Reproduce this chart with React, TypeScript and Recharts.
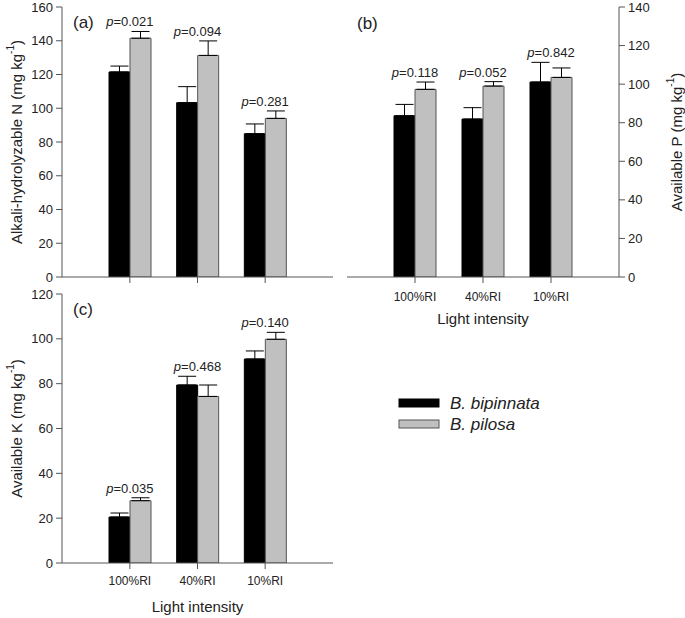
import React from 'react';
import { ComposedChart, Bar, XAxis, YAxis, ErrorBar, Scatter, Label } from 'recharts';

const categories = ['100%RI', '40%RI', '10%RI'];
const seriesNames = ['B. bipinnata', 'B. pilosa'];

// (a) Alkali-hydrolyzable N
const nBipinnata = [121.5, 103.3, 84.9];
const nBipinnataErr = [3.5, 9.5, 5.8];
const nPilosa = [141.5, 131.3, 94.0];
const nPilosaErr = [4.0, 8.6, 4.4];
const nPValues = ['0.021', '0.094', '0.281'];
const nTicks = [0, 20, 40, 60, 80, 100, 120, 140, 160];

// (b) Available P
const pBipinnata = [83.6, 81.9, 101.1];
const pBipinnataErr = [5.9, 5.9, 10.2];
const pPilosa = [97.3, 99.0, 103.5];
const pPilosaErr = [3.8, 2.3, 4.9];
const pPValues = ['0.118', '0.052', '0.842'];
const pTicks = [0, 20, 40, 60, 80, 100, 120, 140];

// (c) Available K
const kBipinnata = [20.5, 79.4, 91.0];
const kBipinnataErr = [1.8, 3.9, 3.6];
const kPilosa = [27.8, 74.3, 99.8];
const kPilosaErr = [1.3, 5.1, 3.1];
const kPValues = ['0.035', '0.468', '0.140'];
const kTicks = [0, 20, 40, 60, 80, 100, 120];

const AX = '#555';
const TXT = '#222';
const BLACK = '#000';
const GREY = '#c0c0c0';
const FONT = 'Liberation Sans, Arial, Helvetica, sans-serif';

function buildRows(b: number[], bErr: number[], g: number[], gErr: number[], p: string[]) {
  return categories.map((cat, i) => ({
    cat,
    b: b[i],
    bErr: [0, bErr[i]],
    g: g[i],
    gErr: [0, gErr[i]],
    anchor: Math.max(b[i] + bErr[i], g[i] + gErr[i]),
    p: p[i],
  }));
}

const nRows = buildRows(nBipinnata, nBipinnataErr, nPilosa, nPilosaErr, nPValues);
const pRows = buildRows(pBipinnata, pBipinnataErr, pPilosa, pPilosaErr, pPValues);
const kRows = buildRows(kBipinnata, kBipinnataErr, kPilosa, kPilosaErr, kPValues);

function YLab(props: any) {
  const { viewBox, text, side } = props;
  const { x, y, width, height } = viewBox;
  const cx = side === 'left' ? x + 16 : x + width - 9;
  const cy = y + height / 2;
  return (
    <text
      x={cx}
      y={cy}
      transform={`rotate(-90 ${cx} ${cy})`}
      textAnchor="middle"
      dominantBaseline="central"
      fontSize={15}
      fill={TXT}
      fontFamily={FONT}
    >
      {text} (mg kg<tspan dy={-6} fontSize={10}>-1</tspan>
      <tspan dy={6}>)</tspan>
    </text>
  );
}

function XLab(props: any) {
  const { viewBox, dyBase } = props;
  const { x, y, width } = viewBox;
  return (
    <text x={x + width / 2} y={y + dyBase} textAnchor="middle" fontSize={15} fill={TXT} fontFamily={FONT}>
      Light intensity
    </text>
  );
}

function PLabel(props: any) {
  const { cx, cy, payload } = props;
  if (cx == null || cy == null) return null;
  return (
    <text x={cx} y={cy - 5} textAnchor="middle" fontSize={13} fill={TXT} fontFamily={FONT}>
      <tspan fontStyle="italic">p</tspan>={payload.p}
    </text>
  );
}

type PanelProps = {
  rows: any[];
  ticks: number[];
  yLabel: string;
  side: 'left' | 'right';
  showXLabels: boolean;
  width: number;
  height: number;
  margin: any;
  xHeight: number;
  yWidth: number;
  tickMargin: number;
  xLabelDy: number;
};

function Panel(p: PanelProps) {
  const domain = [0, p.ticks[p.ticks.length - 1]];
  return (
    <ComposedChart
      width={p.width}
      height={p.height}
      data={p.rows}
      margin={p.margin}
      barGap={0}
      barCategoryGap={0}
      style={{ fontFamily: FONT }}
    >
      <XAxis
        dataKey="cat"
        type="category"
        padding={{ left: 34, right: 34 }}
        height={p.xHeight}
        tickSize={6}
        tickMargin={p.tickMargin}
        axisLine={{ stroke: AX }}
        tickLine={{ stroke: AX }}
        tick={{ fill: TXT, fontSize: 12 }}
        tickFormatter={(v: any) => (p.showXLabels ? v : '')}
        interval={0}
      >
        {p.showXLabels ? <Label content={(lp: any) => <XLab {...lp} dyBase={p.xLabelDy} />} /> : null}
      </XAxis>
      <XAxis
        xAxisId="frameTop"
        dataKey="cat"
        orientation="top"
        height={0}
        tick={false}
        tickLine={false}
        axisLine={{ stroke: AX }}
      />
      <YAxis
        type="number"
        domain={domain}
        ticks={p.ticks}
        orientation={p.side}
        width={p.yWidth}
        tickSize={6}
        tickMargin={3}
        axisLine={{ stroke: AX }}
        tickLine={{ stroke: AX }}
        tick={{ fill: TXT, fontSize: 13 }}
        interval={0}
        allowDataOverflow
      >
        <Label content={(lp: any) => <YLab {...lp} text={p.yLabel} side={p.side} />} />
      </YAxis>
      <YAxis
        yAxisId="frameSide"
        type="number"
        domain={[0, 1]}
        orientation={p.side === 'left' ? 'right' : 'left'}
        width={0}
        tick={false}
        tickLine={false}
        axisLine={{ stroke: AX }}
      />
      <Bar dataKey="b" name={seriesNames[0]} fill={BLACK} stroke={BLACK} strokeWidth={1} barSize={21} isAnimationActive={false}>
        <ErrorBar dataKey="bErr" width={9} stroke={BLACK} strokeWidth={1} direction="y" />
      </Bar>
      <Bar dataKey="g" name={seriesNames[1]} fill={GREY} stroke={AX} strokeWidth={1} barSize={21} isAnimationActive={false}>
        <ErrorBar dataKey="gErr" width={9} stroke={BLACK} strokeWidth={1} direction="y" />
      </Bar>
      <Scatter dataKey="anchor" shape={PLabel} isAnimationActive={false} legendType="none" />
    </ComposedChart>
  );
}

export default function App() {
  return (
    <div style={{ position: 'absolute', left: 0, top: 0, width: 685, height: 618, background: '#fff', fontFamily: FONT }}>
      <div style={{ position: 'absolute', left: 0, top: 0 }}>
        <Panel
          rows={nRows}
          ticks={nTicks}
          yLabel="Alkali-hydrolyzable N"
          side="left"
          showXLabels={false}
          width={340}
          height={290}
          margin={{ top: 7, right: 7, left: 0, bottom: 0 }}
          xHeight={13}
          yWidth={62}
          tickMargin={8}
          xLabelDy={47}
        />
      </div>
      <div style={{ position: 'absolute', left: 340, top: 0 }}>
        <Panel
          rows={pRows}
          ticks={pTicks}
          yLabel="Available P"
          side="right"
          showXLabels={true}
          width={345}
          height={330}
          margin={{ top: 7, right: 0, left: 7, bottom: 0 }}
          xHeight={53}
          yWidth={66}
          tickMargin={9}
          xLabelDy={47}
        />
      </div>
      <div style={{ position: 'absolute', left: 0, top: 280 }}>
        <Panel
          rows={kRows}
          ticks={kTicks}
          yLabel="Available K"
          side="left"
          showXLabels={true}
          width={340}
          height={338}
          margin={{ top: 14, right: 7, left: 0, bottom: 0 }}
          xHeight={55}
          yWidth={62}
          tickMargin={7}
          xLabelDy={49}
        />
      </div>
      <svg
        width={685}
        height={618}
        style={{ position: 'absolute', left: 0, top: 0, pointerEvents: 'none' }}
        fontFamily={FONT}
      >
        <text x={73} y={28} fontSize={17} fill={TXT}>(a)</text>
        <text x={357} y={29} fontSize={17} fill={TXT}>(b)</text>
        <text x={73} y={315} fontSize={17} fill={TXT}>(c)</text>
        <rect x={399} y={399} width={40} height={8} fill={BLACK} stroke={BLACK} />
        <text x={450} y={409} fontSize={17} fontStyle="italic" fill={TXT}>{seriesNames[0]}</text>
        <rect x={399} y={420} width={40} height={8} fill={GREY} stroke={AX} />
        <text x={450} y={430} fontSize={17} fontStyle="italic" fill={TXT}>{seriesNames[1]}</text>
      </svg>
    </div>
  );
}
